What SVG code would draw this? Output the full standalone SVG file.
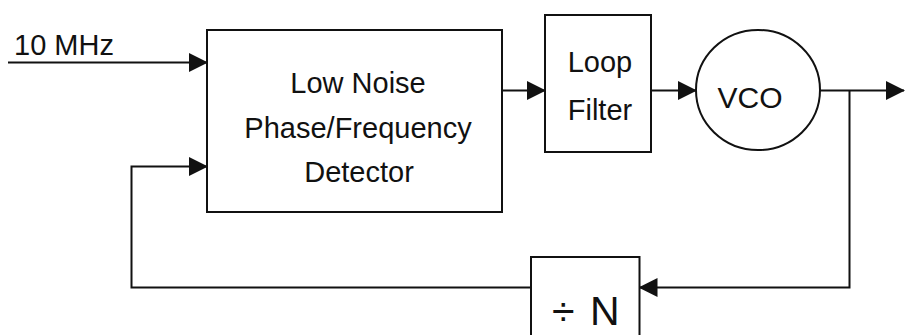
<svg xmlns="http://www.w3.org/2000/svg" width="905" height="335" viewBox="0 0 905 335">
<style>
.box{fill:#fff;stroke:#111;stroke-width:2}
.wire{fill:none;stroke:#111;stroke-width:2}
.t{font-family:"Liberation Sans",Arial,sans-serif;font-size:29px;fill:#111}
.m{text-anchor:middle}
</style>
<defs>
<marker id="arr" markerUnits="userSpaceOnUse" markerWidth="19" markerHeight="19" refX="18" refY="9.5" orient="auto" viewBox="0 0 19 19">
<path d="M0,0 L19,9.5 L0,19 z" fill="#111"/>
</marker>
</defs>
<rect width="905" height="335" fill="#fff"/>
<g id="connectors">
<path class="wire" d="M8,62.5 H207" marker-end="url(#arr)"/>
<path class="wire" d="M502,90.5 H545" marker-end="url(#arr)"/>
<path class="wire" d="M651,90.5 H696" marker-end="url(#arr)"/>
<path class="wire" d="M820,90.5 H904" marker-end="url(#arr)"/>
<path class="wire" d="M849.5,90.5 V287.5 H639.5" marker-end="url(#arr)"/>
<path class="wire" d="M531,287.5 H131.5 V166.5 H207" marker-end="url(#arr)"/>
</g>
<g id="input-label">
<text class="t" x="14" y="55">10 MHz</text>
</g>
<g id="pfd">
<rect class="box" x="207" y="30" width="295" height="182"/>
<text class="t m" x="358" y="93">Low Noise</text>
<text class="t m" x="358" y="138">Phase/Frequency</text>
<text class="t m" x="359" y="182">Detector</text>
</g>
<g id="loop-filter">
<rect class="box" x="545" y="15" width="106" height="137"/>
<text class="t m" x="600" y="72">Loop</text>
<text class="t m" x="600" y="120">Filter</text>
</g>
<g id="vco">
<ellipse class="box" cx="758" cy="90" rx="62" ry="60"/>
<text class="t m" x="750" y="108" style="font-size:30px">VCO</text>
</g>
<g id="divider">
<rect class="box" x="531" y="257" width="108.5" height="85"/>
<text class="t" x="552" y="325" style="font-size:41px">÷<tspan x="590">N</tspan></text>
</g>
</svg>
